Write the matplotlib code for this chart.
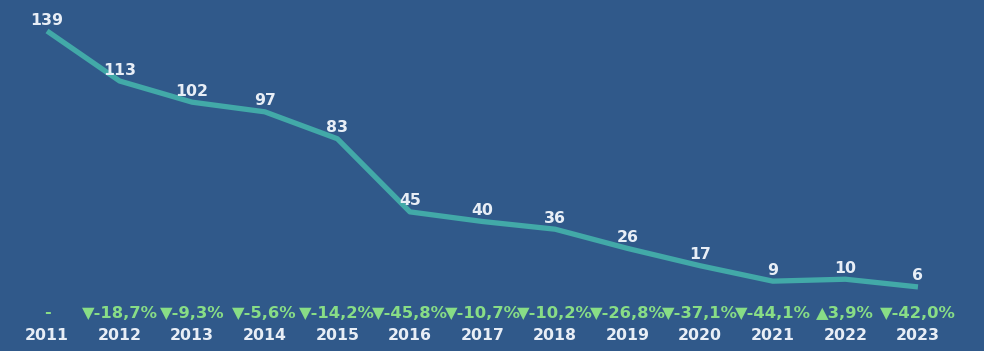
import matplotlib.pyplot as plt

# Data
years = ["2011", "2012", "2013", "2014", "2015", "2016", "2017",
         "2018", "2019", "2020", "2021", "2022", "2023"]
values = [139, 113, 102, 97, 83, 45, 40, 36, 26, 17, 9, 10, 6]
changes = [None, -18.7, -9.3, -5.6, -14.2, -45.8, -10.7, -10.2,
           -26.8, -37.1, -44.1, 3.9, -42.0]

BG = "#30598A"
LINE = "#42A9A8"
GREEN = "#88DD86"
TEXT = "#E8EEF6"
FONT = ["DejaVu Sans"]


def fmt_change(c):
    if c is None:
        return "-"
    s = f"{c:.1f}".replace(".", ",") + "%"
    if c < 0:
        return "\u25BC" + s
    return "\u25B2" + s


def main():
    fig = plt.figure(figsize=(9.84, 3.51), dpi=100, facecolor=BG)
    ax = fig.add_axes([0, 0, 1, 1])
    ax.set_facecolor(BG)

    x = list(range(len(years)))
    ax.plot(x, values, color=LINE, linewidth=3.8, solid_capstyle="butt",
            solid_joinstyle="round")

    for i, v in enumerate(values):
        ax.annotate(str(v), (i, v), xytext=(0, 2.5), textcoords="offset points",
                    ha="center", va="bottom", color=TEXT, fontsize=11.3,
                    fontweight="bold", family=FONT)

    # change labels and year labels below the plot
    trans = ax.get_xaxis_transform()
    for i, c in enumerate(changes):
        ax.text(i, 1 - 313 / 351, fmt_change(c), transform=trans,
                ha="center", va="center", color=GREEN, fontsize=11.8,
                fontweight="bold", family=FONT)
        ax.text(i, 1 - 336 / 351, years[i], transform=trans,
                ha="center", va="center", color=TEXT, fontsize=11.3,
                fontweight="bold", family=FONT)

    ax.set_xlim(-0.648, 12.91)
    ax.set_ylim(-27.3, 155.1)
    ax.axis("off")

    fig.savefig("out.png", dpi=100, facecolor=BG)


if __name__ == "__main__":
    main()
